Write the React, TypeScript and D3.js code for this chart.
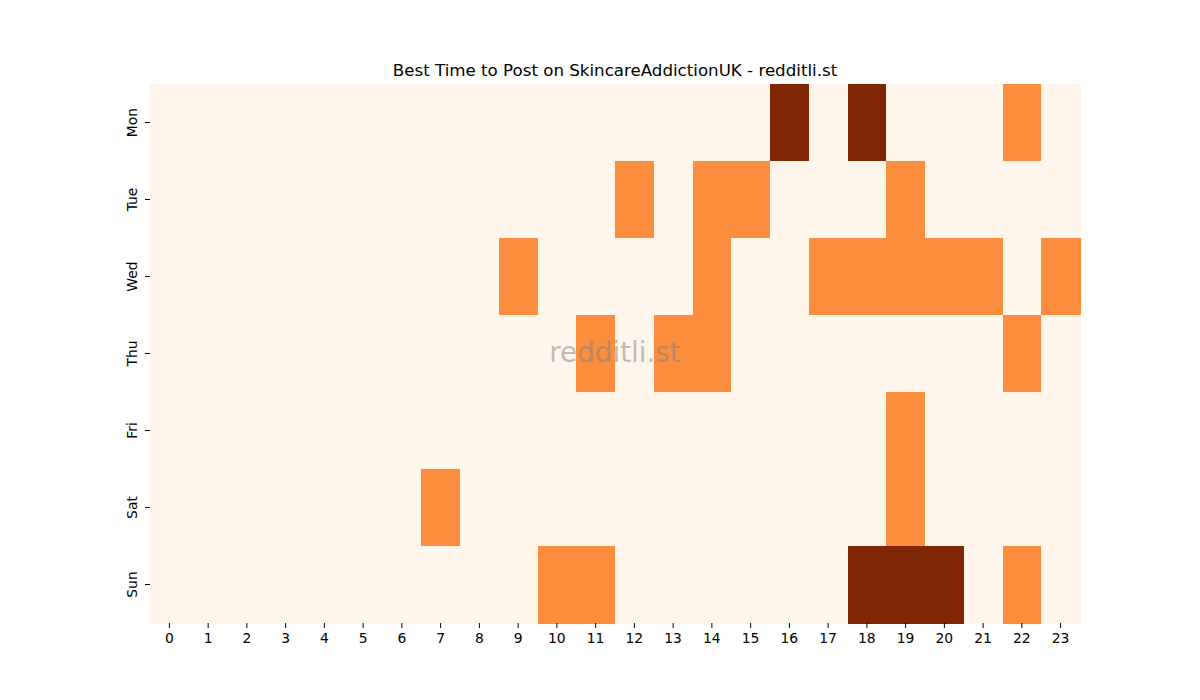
import * as d3 from 'd3';
import React, { useEffect, useRef } from 'react';

const days = ['Mon', 'Tue', 'Wed', 'Thu', 'Fri', 'Sat', 'Sun'];
const hours = d3.range(24);

// activity level per day (rows) and hour (columns)
const monValues = [0, 0, 0, 0, 0, 0, 0, 0, 0, 0, 0, 0, 0, 0, 0, 0, 2, 0, 2, 0, 0, 0, 1, 0];
const tueValues = [0, 0, 0, 0, 0, 0, 0, 0, 0, 0, 0, 0, 1, 0, 1, 1, 0, 0, 0, 1, 0, 0, 0, 0];
const wedValues = [0, 0, 0, 0, 0, 0, 0, 0, 0, 1, 0, 0, 0, 0, 1, 0, 0, 1, 1, 1, 1, 1, 0, 1];
const thuValues = [0, 0, 0, 0, 0, 0, 0, 0, 0, 0, 0, 1, 0, 1, 1, 0, 0, 0, 0, 0, 0, 0, 1, 0];
const friValues = [0, 0, 0, 0, 0, 0, 0, 0, 0, 0, 0, 0, 0, 0, 0, 0, 0, 0, 0, 1, 0, 0, 0, 0];
const satValues = [0, 0, 0, 0, 0, 0, 0, 1, 0, 0, 0, 0, 0, 0, 0, 0, 0, 0, 0, 1, 0, 0, 0, 0];
const sunValues = [0, 0, 0, 0, 0, 0, 0, 0, 0, 0, 1, 1, 0, 0, 0, 0, 0, 0, 2, 2, 2, 0, 1, 0];

const rows = [monValues, tueValues, wedValues, thuValues, friValues, satValues, sunValues];

const App: React.FC = () => {
    const svgRef = useRef<SVGSVGElement | null>(null);

    useEffect(() => {
        const margin = { top: 84, right: 120, bottom: 77, left: 150 };
        const width = 1200 - margin.left - margin.right;
        const height = 700 - margin.top - margin.bottom;

        d3.select(svgRef.current).selectAll('*').remove();

        const root = d3.select(svgRef.current).attr('width', 1200).attr('height', 700);
        root.append('rect').attr('width', 1200).attr('height', 700).attr('fill', 'white');

        const svg = root.append('g').attr('transform', `translate(${margin.left},${margin.top})`);

        const x = d3.scaleBand<number>().domain(hours).range([0, width]);
        const y = d3.scaleBand<string>().domain(days).range([0, height]);

        const color = (v: number) => d3.interpolateOranges(v / 2);

        const cells = rows.flatMap((vals, i) => vals.map((v, h) => ({ day: days[i], hour: h, value: v })));

        svg.selectAll('.cell')
            .data(cells)
            .enter()
            .append('rect')
            .attr('class', 'cell')
            .attr('x', d => x(d.hour)!)
            .attr('y', d => y(d.day)!)
            .attr('width', x.bandwidth() + 0.5)
            .attr('height', y.bandwidth() + 0.5)
            .attr('fill', d => color(d.value))
            .attr('shape-rendering', 'crispEdges');

        const xAxis = svg.append('g')
            .attr('transform', `translate(0,${height})`)
            .call(d3.axisBottom(x).tickSize(5).tickPadding(5));
        const yAxis = svg.append('g').call(d3.axisLeft(y).tickSize(5).tickPadding(5));

        [xAxis, yAxis].forEach(a => {
            a.select('.domain').remove();
            a.selectAll('text')
                .attr('font-family', 'DejaVu Sans, sans-serif')
                .attr('font-size', 13.9)
                .attr('fill', 'black');
        });

        yAxis.selectAll<SVGTextElement, string>('text')
            .attr('transform', 'rotate(-90)')
            .attr('x', 0)
            .attr('dx', 0)
            .attr('y', -13)
            .attr('dy', 0)
            .style('text-anchor', 'middle');

        // watermark
        svg.append('text')
            .attr('x', width / 2)
            .attr('y', height / 2)
            .attr('text-anchor', 'middle')
            .attr('dominant-baseline', 'middle')
            .attr('font-family', 'DejaVu Sans, sans-serif')
            .attr('font-size', 27.8)
            .attr('fill', '#808080')
            .attr('fill-opacity', 0.5)
            .text('redditli.st');

        root.append('text')
            .attr('x', margin.left + width / 2)
            .attr('y', 76)
            .attr('text-anchor', 'middle')
            .attr('font-family', 'DejaVu Sans, sans-serif')
            .attr('font-size', 16.67)
            .attr('fill', 'black')
            .text('Best Time to Post on SkincareAddictionUK - redditli.st');
    }, []);

    return <svg ref={svgRef} style={{ position: 'absolute', left: 0, top: 0 }}></svg>;
};

export default App;
